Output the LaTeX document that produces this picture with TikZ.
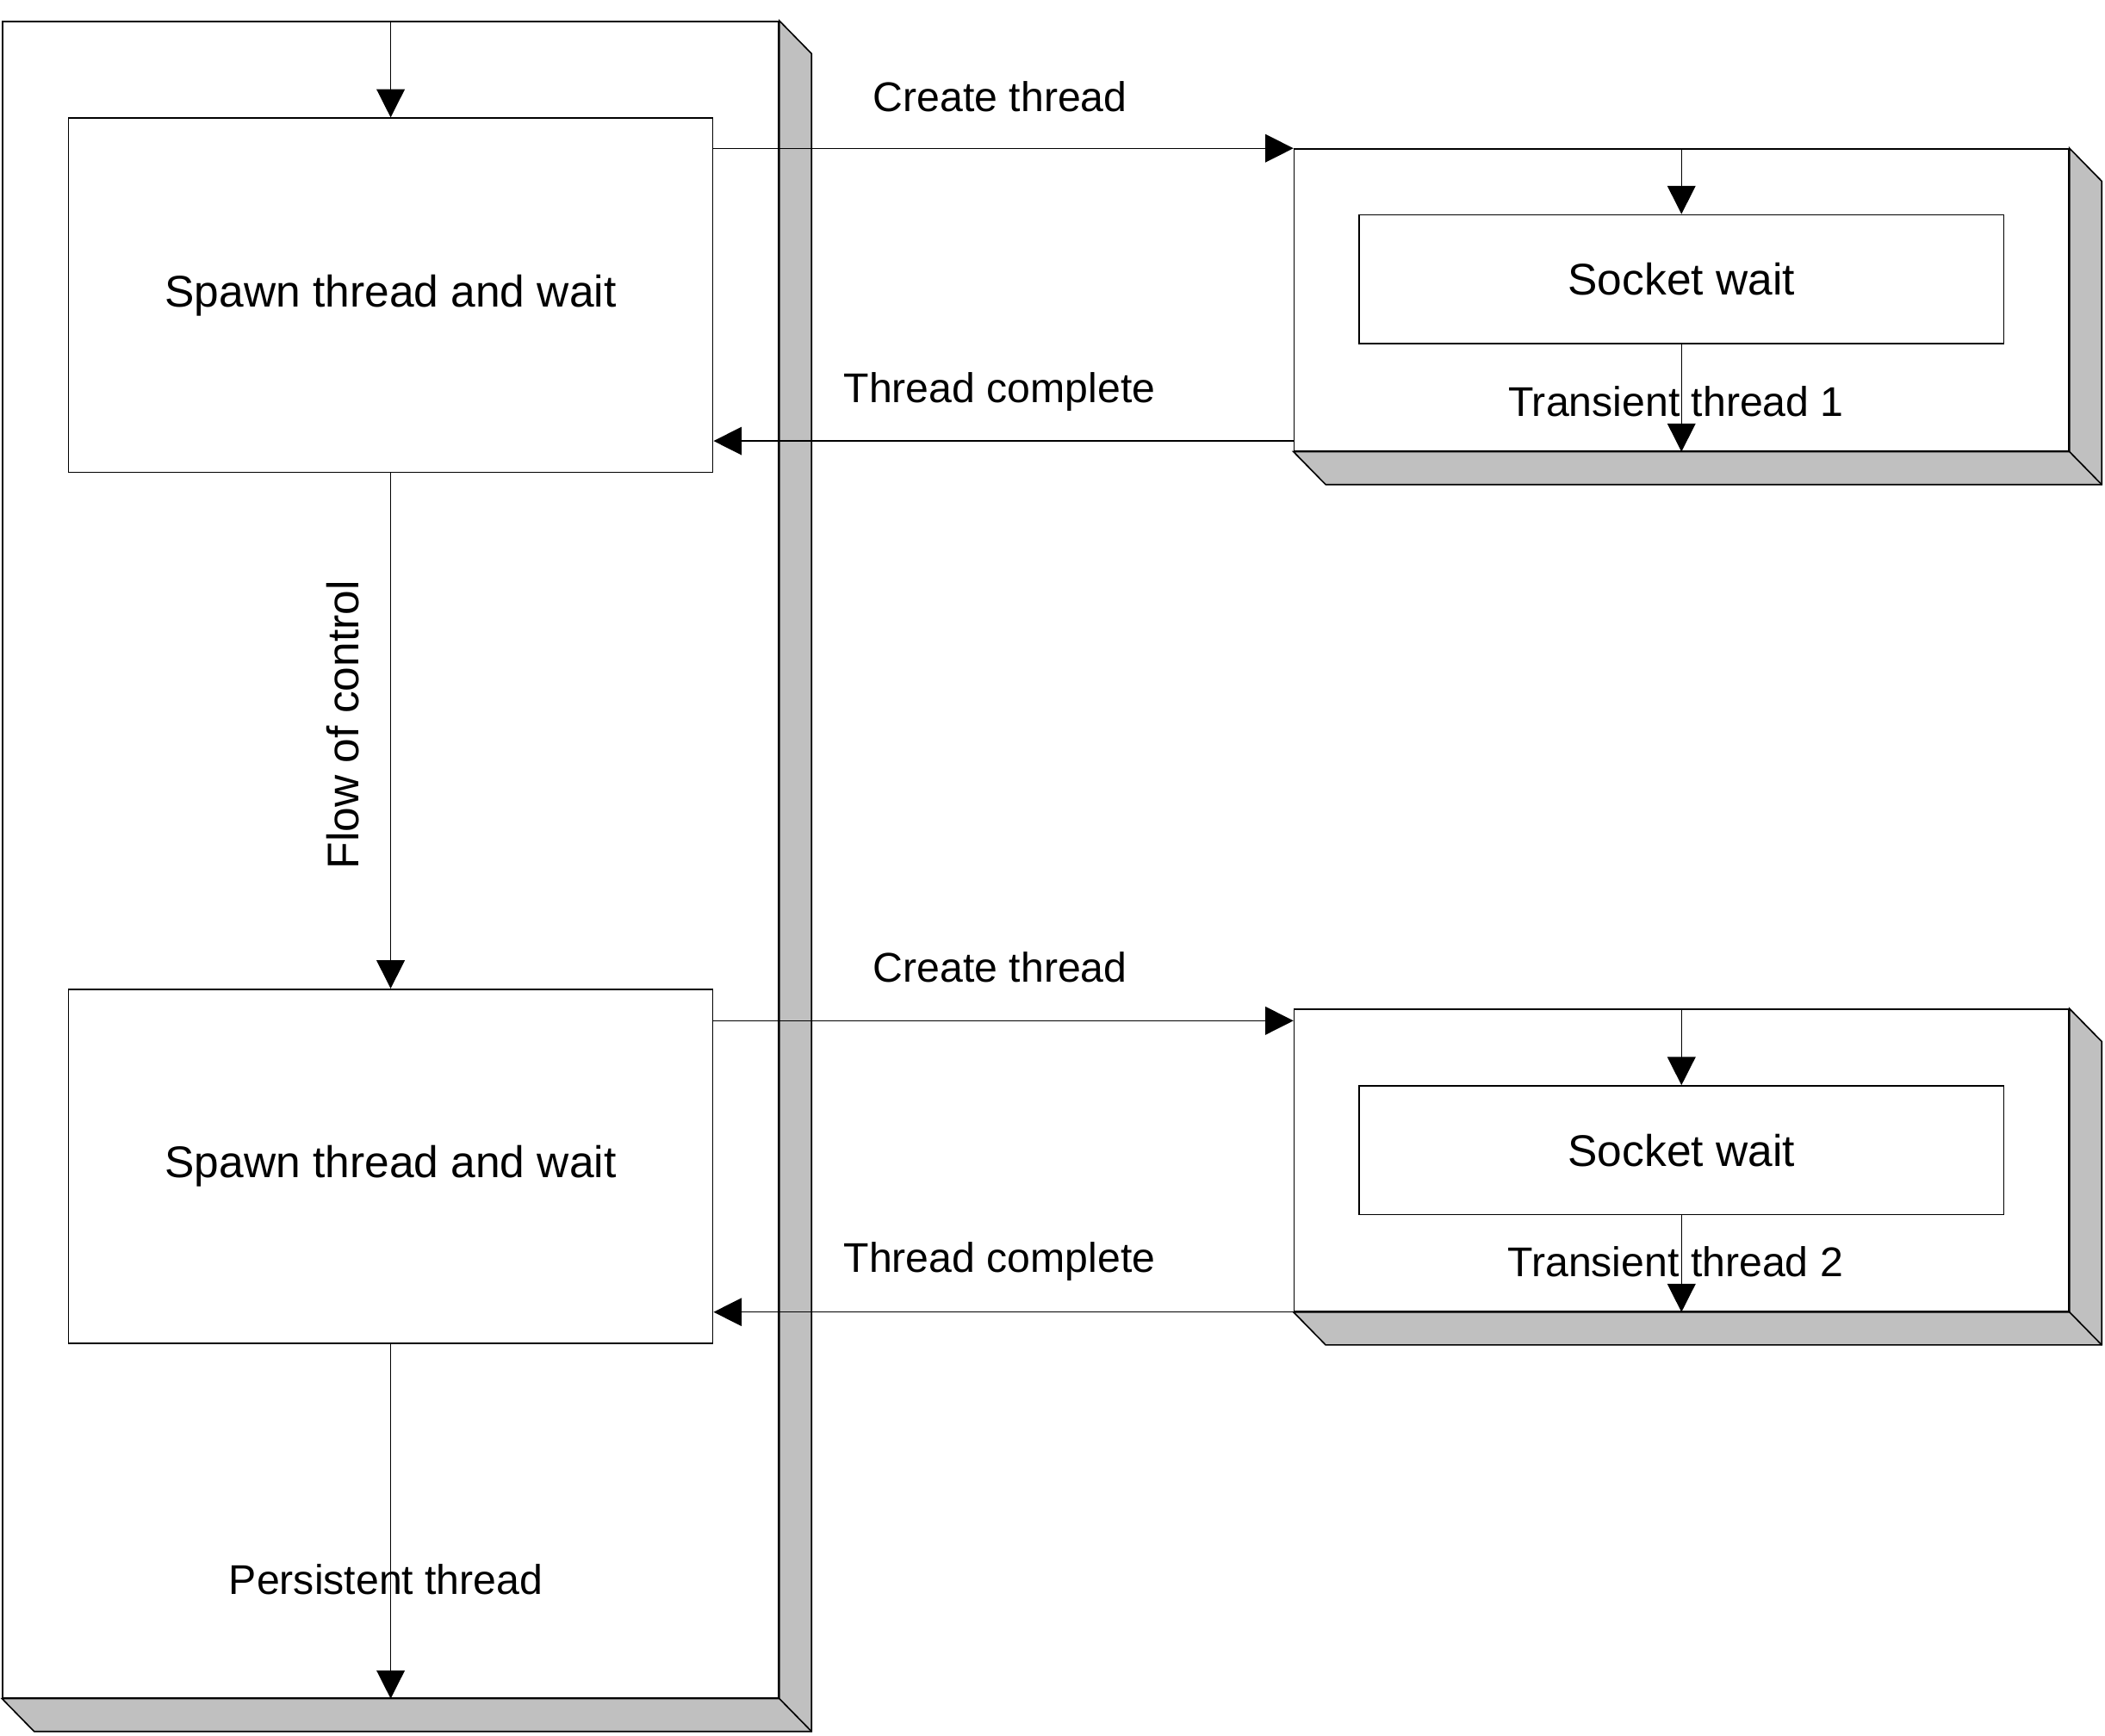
\documentclass[tikz,border=0pt]{standalone}
\usepackage{fontspec}
\setmainfont{Liberation Sans}
\usetikzlibrary{arrows.meta}
\definecolor{shadegray}{RGB}{192,192,192}
\begin{document}
\begin{tikzpicture}[
  box/.style={draw, line width=0.3pt, rectangle, inner sep=0pt},
  shadow3d/.style={fill=shadegray, draw=black, line width=0.3pt},
  flow/.style={-{Triangle[length=2.1mm,width=2.1mm]}, line width=0.25pt},
  biglabel/.style={font=\fontsize{9.4}{11}\selectfont},
  smalllabel/.style={font=\fontsize{8.8}{10}\selectfont, anchor=base}]
\useasboundingbox (0,0) rectangle (15.68,-12.93);
% persistent thread
\node[box, minimum width=5.78cm, minimum height=12.49cm] (pers) at (2.91,-6.405) {};
\node[box, biglabel, minimum width=4.80cm, minimum height=2.64cm] (spawnA) at (2.91,-2.20) {Spawn thread and wait};
\node[box, biglabel, minimum width=4.80cm, minimum height=2.64cm] (spawnB) at (2.91,-8.69) {Spawn thread and wait};
% transient threads
\node[box, minimum width=5.77cm, minimum height=2.25cm] (transA) at (12.525,-2.235) {};
\node[box, biglabel, minimum width=4.80cm, minimum height=0.96cm] (sockA) at (12.525,-2.08) {Socket wait};
\node[box, minimum width=5.77cm, minimum height=2.25cm] (transB) at (12.525,-8.645) {};
\node[box, biglabel, minimum width=4.80cm, minimum height=0.96cm] (sockB) at (12.525,-8.57) {Socket wait};
\filldraw[shadow3d] (pers.north east) -- ++(0.24,-0.245) -- ([shift={(0.24,-0.245)}]pers.south east) -- ([shift={(0.24,-0.245)}]pers.south west) -- (pers.south west) -- (pers.south east) -- cycle;
\draw[line width=0.3pt] (pers.south east) -- ++(0.24,-0.245);
\filldraw[shadow3d] (transA.north east) -- ++(0.24,-0.245) -- ([shift={(0.24,-0.245)}]transA.south east) -- ([shift={(0.24,-0.245)}]transA.south west) -- (transA.south west) -- (transA.south east) -- cycle;
\draw[line width=0.3pt] (transA.south east) -- ++(0.24,-0.245);
\filldraw[shadow3d] (transB.north east) -- ++(0.24,-0.245) -- ([shift={(0.24,-0.245)}]transB.south east) -- ([shift={(0.24,-0.245)}]transB.south west) -- (transB.south west) -- (transB.south east) -- cycle;
\draw[line width=0.3pt] (transB.south east) -- ++(0.24,-0.245);
\coordinate (doneA) at ([yshift=0.08cm]transA.south west);
\coordinate (newB) at ([yshift=-0.09cm]transB.north west);
\draw[flow] (pers.north) -- (spawnA.north);
\draw[flow] (spawnA) -- (spawnB);
\draw[flow] (spawnB.south) -- (pers.south);
\draw[flow] (spawnA.east |- transA.north west) -- (transA.north west);
\draw[flow] (doneA) -- (doneA -| spawnA.east);
\draw[flow] (newB -| spawnB.east) -- (newB);
\draw[flow] (transB.south west) -- (transB.south west -| spawnB.east);
\draw[flow] (transA.north) -- (sockA.north);
\draw[flow] (sockA.south) -- (transA.south);
\draw[flow] (transB.north) -- (sockB.north);
\draw[flow] (sockB.south) -- (transB.south);
\node[smalllabel] (lcreateA) at (7.45,-0.83) {Create thread};
\node[smalllabel] (ldoneA) at (7.445,-3.00) {Thread complete};
\node[smalllabel] (lcreateB) at (7.45,-7.32) {Create thread};
\node[smalllabel] (ldoneB) at (7.445,-9.48) {Thread complete};
\node[smalllabel] (ltransA) at (12.485,-3.10) {Transient thread 1};
\node[smalllabel] (ltransB) at (12.48,-9.51) {Transient thread 2};
\node[smalllabel] (lpers) at (2.875,-11.88) {Persistent thread};
\node[biglabel, anchor=base, rotate=90] (lflow) at (2.67,-5.40) {Flow of control};
\end{tikzpicture}
\end{document}
